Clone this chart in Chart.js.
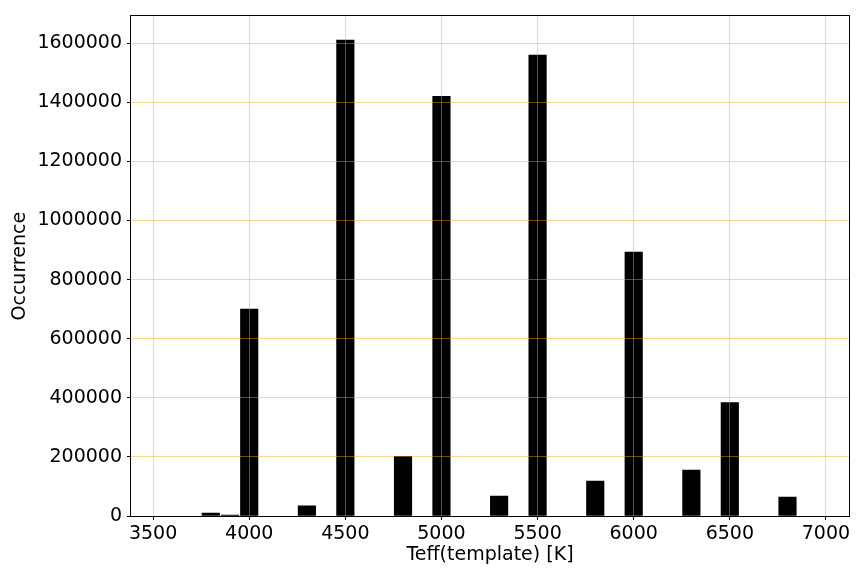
<!DOCTYPE html>
<html>
<head>
<meta charset="utf-8">
<script src="https://cdn.jsdelivr.net/npm/chart.js@4"></script>
<style>
html,body{margin:0;padding:0;background:#fff;}
#wrap{width:864px;height:576px;}
</style>
</head>
<body>
<div id="wrap"><canvas id="c" width="864" height="576"></canvas></div>
<script>
const teffValues = [3800, 3900, 4000, 4300, 4500, 4800, 5000, 5300, 5500, 5800, 6000, 6300, 6500, 6800];
const occurrences = [10000, 3000, 700000, 34000, 1610000, 202000, 1420000, 67000, 1560000, 118000, 893000, 155000, 384000, 64000];
const xTicks = [3500, 4000, 4500, 5000, 5500, 6000, 6500, 7000];
const yTicks = [0, 200000, 400000, 600000, 800000, 1000000, 1200000, 1400000, 1600000];
const xLabel = 'Teff(template) [K]';
const yLabel = 'Occurrence';

Chart.defaults.font.family = "'DejaVu Sans', sans-serif";
Chart.defaults.font.size = 19;
Chart.defaults.color = '#000';

const frame = {
  id: 'frame',
  afterDraw(chart) {
    const a = chart.chartArea, ctx = chart.ctx;
    ctx.save();
    ctx.strokeStyle = '#000';
    ctx.lineWidth = 1;
    ctx.strokeRect(Math.round(a.left) - 0.5, Math.round(a.top) - 0.5, Math.round(a.right - a.left) + 1, Math.round(a.bottom - a.top) + 1);
    ctx.restore();
  }
};

const gridColor = 'rgba(255,165,0,0.45)';

new Chart(document.getElementById('c'), {
  type: 'bar',
  data: {
    datasets: [{
      data: teffValues.map((x, i) => ({x: x, y: occurrences[i]})),
      backgroundColor: '#000',
      borderWidth: 0,
      barThickness: 17.5
    }]
  },
  options: {
    responsive: false,
    animation: false,
    layout: {padding: {top: 14, right: 15, left: 0, bottom: 0}},
    plugins: {legend: {display: false}, tooltip: {enabled: false}},
    scales: {
      x: {
        type: 'linear',
        offset: false,
        min: 3385,
        max: 7120,
        z: 1,
        afterBuildTicks: s => { s.ticks = xTicks.map(v => ({value: v})); },
        afterFit: s => { s.height = 60; },
        ticks: {callback: v => String(v), padding: 3, maxRotation: 0, autoSkip: false},
        grid: {offset: false, z: 1, color: gridColor, lineWidth: 1, tickColor: '#000', tickLength: 4, drawTicks: true},
        border: {display: false},
        title: {display: true, text: xLabel, font: {size: 19}, padding: {top: 0, bottom: 10}}
      },
      y: {
        min: 0,
        max: 1690500,
        z: 1,
        afterBuildTicks: s => { s.ticks = yTicks.map(v => ({value: v})); },
        afterFit: s => { s.width = 131; },
        ticks: {callback: v => String(v), padding: 5, autoSkip: false},
        grid: {offset: false, z: 1, color: ctx => ctx.tick && ctx.tick.value === 0 ? 'rgba(0,0,0,0)' : gridColor, lineWidth: 1, tickColor: '#000', tickLength: 4},
        border: {display: false},
        title: {display: true, text: yLabel, font: {size: 19}, padding: {top: 9, bottom: 0}}
      }
    }
  },
  plugins: [frame]
});
</script>
</body>
</html>
